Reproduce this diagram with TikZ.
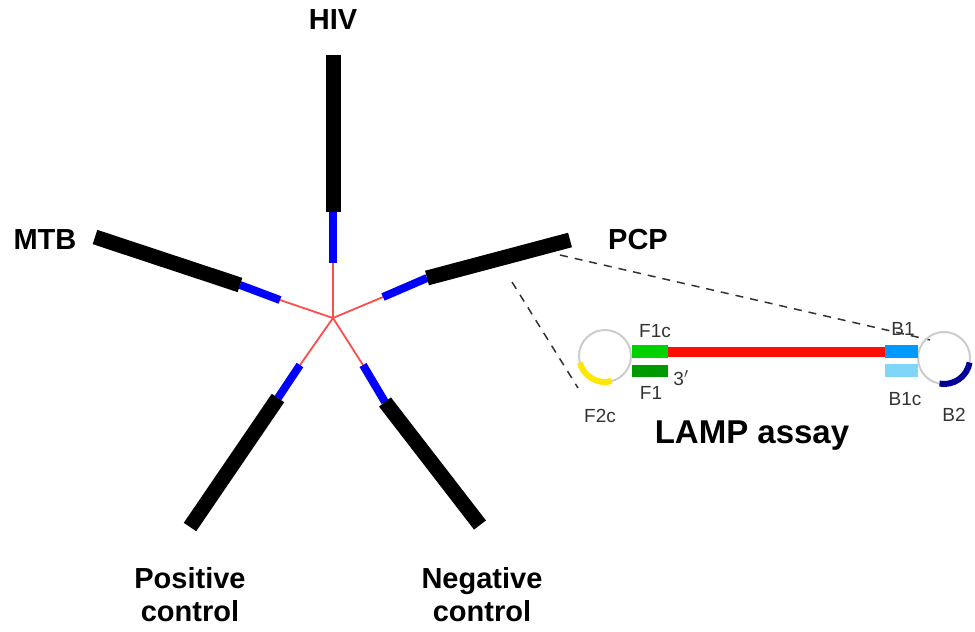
\documentclass[tikz,border=0pt]{standalone}
\usepackage{fontspec}
\setmainfont{Liberation Sans}
\begin{document}
\begin{tikzpicture}[x=1pt,y=-1pt,
  big/.style={font=\fontsize{29}{33}\selectfont\bfseries,align=center},
  small/.style={font=\fontsize{19}{21}\selectfont,text=black!80},
  blk/.style={line width=15pt,black},
  blu/.style={line width=8pt,blue},
  rd/.style={line width=1.8pt,red!70},
  dsh/.style={dashed,line width=1.5pt,dash pattern=on 8pt off 7pt,black!80}]
\useasboundingbox (0,0) rectangle (975,632);
\coordinate (c) at (333,318);
\foreach \o/\b/\u in {{333,55}/{333,212}/{333,263},
  {95,237}/{240,285}/{280,300},
  {570,240}/{427,278}/{383,297},
  {190,527}/{278,398}/{300,365},
  {480,525}/{385,402}/{363,365}}{
  \draw[rd] (c) -- (\u);
  \draw[blu] (\u) -- (\b);
  \draw[blk] (\b) -- (\o);
}
\node[big] (hiv) at (333,20) {HIV};
\node[big] (mtb) at (45,240) {MTB};
\node[big] (pcp) at (638,240) {PCP};
\node[big] (pos) at (190,595) {Positive\\control};
\node[big] (neg) at (482,595) {Negative\\control};
\coordinate (d1) at (560,255);
\coordinate (d2) at (930,340);
\coordinate (d3) at (512,282);
\coordinate (d4) at (578,388);
\draw[dsh] (d1) -- (d2);
\draw[dsh] (d3) -- (d4);
\draw[black!20,line width=2pt] (605,356) circle (26);
\draw[yellow!90!orange,line width=6pt] (605,356) ++(165:26) arc (165:75:26);
\draw[black!20,line width=2pt] (944,358) circle (26);
\draw[blue!60!black,line width=6pt] (944,358) ++(10:26) arc (10:100:26);
\draw[red!90!orange,line width=10pt] (668,352) -- (886,352);
\fill[green!70!black!60!green] (632,345) rectangle (668,358);
\fill[green!60!black] (632,365) rectangle (668,377);
\fill[blue!40!cyan] (885,345) rectangle (918,358);
\fill[cyan!50] (885,364) rectangle (918,377);
\node[small] (f1c) at (655,331) {F1c};
\node[small] (f1) at (651,393) {F1};
\node[small] (p3) at (681,378) {3$'$};
\node[small] (f2c) at (600,416) {F2c};
\node[small] (b1) at (903,329) {B1};
\node[small] (b1c) at (905,399) {B1c};
\node[small] (b2) at (954,415) {B2};
\node[font=\fontsize{33}{36}\selectfont\bfseries] (lamp) at (752,436) {LAMP assay};
\end{tikzpicture}
\end{document}
